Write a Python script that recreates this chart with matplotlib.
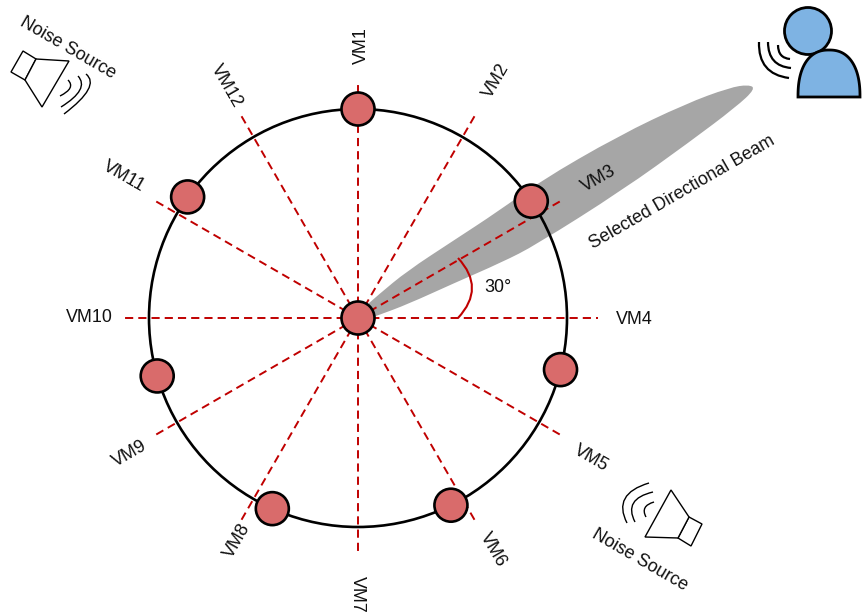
import numpy as np
import matplotlib
matplotlib.use("Agg")
import matplotlib.pyplot as plt
from matplotlib.patches import Circle, Polygon, PathPatch
from matplotlib.path import Path

plt.rcParams['font.family'] = ['Liberation Sans', 'DejaVu Sans']

# ---- data (pixel-space diagram description) ----
center = (358, 318)
ring_radius = 209
spoke_names = ['VM1', 'VM2', 'VM3', 'VM4', 'VM5', 'VM6', 'VM7', 'VM8', 'VM9', 'VM10', 'VM11', 'VM12']
spoke_angles = [90, 60, 30, 0, -30, -60, -90, -120, -150, 180, 150, 120]
spoke_lengths = [238, 238, 234, 240, 238, 238, 234, 238, 238, 238, 238, 238]
label_positions = [(359, 46), (494, 80), (598, 177), (634, 317), (592, 457), (495, 549),
                   (359, 594), (235, 540), (129, 452), (89, 315), (125, 175), (228, 85)]
label_rotations = [90, 60, 30, 0, -30, -60, -90, 60, 30, 0, -30, -60]
mic_angles = [90, 34, -14.3, -63.6, -114.2, -163.9, 144.6]
beam_angle = 30.1
beam_upper_d = [0, 30, 66, 120, 175, 225, 317, 391, 437, 455]
beam_upper_p = [-4, -10, -16, -19, -22, -27, -27, -21, -13, -6]
beam_lower_d = [459, 433, 375, 293, 190, 153, 100, 50, 20, 0]
beam_lower_p = [1, 7, 14, 22, 26, 24, 18, 13, 8, 4]

speaker1_box = [(23, 51), (36, 59), (25, 80), (11, 72)]
speaker1_cone = [(36, 59), (69, 61), (42, 107), (25, 80)]
speaker1_waves = [((60, 96), (76, 88), (68, 80)), ((61, 107), (90, 89), (78, 76)), ((64, 114), (101, 86), (86, 74))]
speaker2_box = [(689, 517), (702, 524), (691, 546), (678, 538)]
speaker2_cone = [(689, 517), (671, 490), (645, 537), (678, 538)]
speaker2_waves = [((654, 502), (640, 506), (646, 517)), ((653, 492), (623, 499), (635, 522)), ((649, 483), (612, 494), (627, 523))]
person_waves = [((778, 45), (778, 58), (790, 59)), ((768, 42), (768, 66), (791, 68)), ((759, 42), (758, 74), (789, 78))]
head = (808, 31, 23.5)
body = (829, 97, 31, 47)
angle_arc = ((458, 258), (486, 288), (458, 318))

RED = '#c00000'
MIC = '#d96b6b'
BLUE = '#7eb3e3'
GREY = '#a6a6a6'
FS = 12.9

fig = plt.figure(figsize=(8.66, 6.14), dpi=100)
ax = fig.add_axes([0, 0, 1, 1])
ax.set_xlim(0, 866)
ax.set_ylim(614, 0)
ax.axis('off')

def pol(a, r):
    t = np.radians(a)
    return center[0] + r * np.cos(t), center[1] - r * np.sin(t)

def curve(p, color='k', lw=1.2, z=5):
    ax.add_patch(PathPatch(Path(list(p), [Path.MOVETO, Path.CURVE3, Path.CURVE3]),
                           fc='none', ec=color, lw=lw, zorder=z))

# beam: quadratic spline whose control points are the read outline points
t = np.radians(beam_angle)
u = np.array([np.cos(t), -np.sin(t)])
n = np.array([np.sin(t), np.cos(t)])
c = np.array(center, float)
pts = [c + d * u + p * n for d, p in zip(beam_upper_d + beam_lower_d, beam_upper_p + beam_lower_p)]
verts = [(pts[0] + pts[-1]) / 2]
codes = [Path.MOVETO]
m = len(pts)
for i in range(m):
    verts += [pts[i], (pts[i] + pts[(i + 1) % m]) / 2]
    codes += [Path.CURVE3, Path.CURVE3]
ax.add_patch(PathPatch(Path(verts, codes), fc=GREY, ec='none', zorder=1))

# ring
ax.add_patch(Circle(center, ring_radius, fc='none', ec='k', lw=1.9, zorder=2))

# spokes and labels
for name, a, L, pos, rot in zip(spoke_names, spoke_angles, spoke_lengths, label_positions, label_rotations):
    x, y = pol(a, L)
    ax.plot([center[0], x], [center[1], y], color=RED, lw=1.4, dashes=(4.2, 2.6), zorder=3)
    ax.text(pos[0], pos[1], name, rotation=rot, rotation_mode='anchor', ha='center', va='center_baseline',
            fontsize=FS, color='#111111', zorder=6)

# angle marker
curve(angle_arc, color=RED, lw=1.5, z=3)
ax.text(498, 285, '30°', fontsize=FS, ha='center', va='center_baseline', color='#111111')

# mics
for a in mic_angles:
    ax.add_patch(Circle(pol(a, ring_radius), 16.5, fc=MIC, ec='k', lw=1.9, zorder=4))
ax.add_patch(Circle(center, 16.5, fc=MIC, ec='k', lw=1.9, zorder=4))

# speakers
for box, cone, waves in [(speaker1_box, speaker1_cone, speaker1_waves),
                         (speaker2_box, speaker2_cone, speaker2_waves)]:
    ax.add_patch(Polygon(box, closed=True, fc='white', ec='k', lw=1.0, zorder=5))
    ax.add_patch(Polygon(cone, closed=True, fc='white', ec='k', lw=1.0, zorder=5))
    for w in waves:
        curve(w, lw=1.0)

# person
ax.add_patch(Circle(head[:2], head[2], fc=BLUE, ec='k', lw=2.0, zorder=5))
th = np.linspace(0, np.pi, 80)
bx = body[0] + body[2] * np.sign(np.cos(th)) * np.abs(np.cos(th)) ** 0.85
by = body[1] - body[3] * np.sin(th) ** 0.85
ax.add_patch(Polygon(np.column_stack([bx, by]), closed=True, fc=BLUE, ec='k', lw=2.0, zorder=6))
for w in person_waves:
    curve(w, lw=1.6)

# captions
ax.text(69, 46, 'Noise Source', rotation=-30, rotation_mode='anchor', ha='center', va='center_baseline', fontsize=FS, color='#111111')
ax.text(641, 558, 'Noise Source', rotation=-30, rotation_mode='anchor', ha='center', va='center_baseline', fontsize=FS, color='#111111')
ax.text(681, 191, 'Selected Directional Beam', rotation=30, rotation_mode='anchor', ha='center', va='center_baseline', fontsize=FS, color='#111111')

fig.savefig('out.png', dpi=100)
